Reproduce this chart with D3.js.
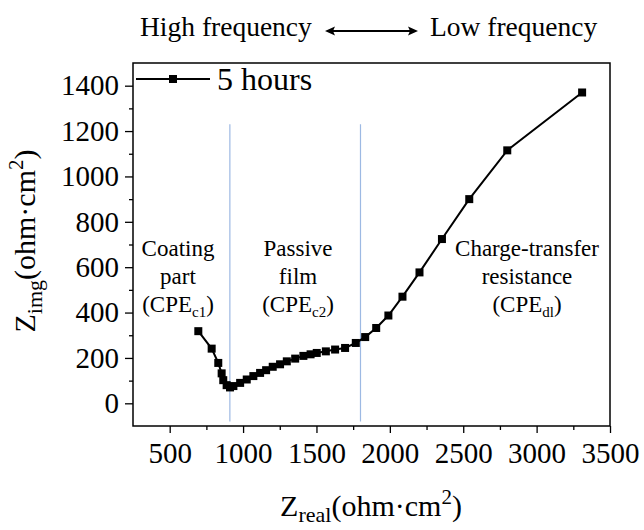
<!DOCTYPE html>
<html>
<head>
<meta charset="utf-8">
<script src="https://cdn.jsdelivr.net/npm/d3@7"></script>
<style>
  html, body { margin: 0; padding: 0; background: #fff; }
  svg { display: block; }
  svg text { font-family: 'Liberation Serif', 'Times New Roman', serif; fill: #000; }
</style>
</head>
<body>
<svg id="chart" width="644" height="530"></svg>
<script>
// ---- data ----
const zReal = [695, 786, 831, 854, 865, 888, 911, 934, 980, 1025, 1070, 1116, 1157, 1202, 1252, 1298, 1355, 1411, 1460, 1502, 1564, 1627, 1695, 1768, 1832, 1907, 1990, 2086, 2202, 2355, 2541, 2800, 3310];
const zImg  = [318, 241, 178, 132, 102, 80, 70, 76, 90, 105, 120, 134, 146, 161, 172, 185, 197, 209, 216, 222, 229, 237, 244, 266, 292, 332, 387, 470, 577, 724, 900, 1115, 1370];
const xTicks = [500, 1000, 1500, 2000, 2500, 3000, 3500];
const xMinor = [750, 1250, 1750, 2250, 2750, 3250];
const yTicks = [0, 200, 400, 600, 800, 1000, 1200, 1400];
const yMinor = [100, 300, 500, 700, 900, 1100, 1300];
const dividers = [910, 1800];
const seriesName = "5 hours";

const FONT = "Liberation Serif";
const svg = d3.select("#chart");
const L = 133, R = 610, T = 63, B = 426;
const x = d3.scaleLinear().domain([250, 3500]).range([L, R]);
const y = d3.scaleLinear().domain([-100, 1500]).range([B, T]);

// divider lines
svg.selectAll("line.div").data(dividers).enter().append("line")
  .attr("x1", d => x(d)).attr("x2", d => x(d))
  .attr("y1", y(1230)).attr("y2", y(-80))
  .attr("stroke", "#9db9e3").attr("stroke-width", 1.2);

// axes
const xAxis = svg.append("g").attr("transform", `translate(0,${B})`)
  .call(d3.axisBottom(x).tickValues(xTicks).tickSize(7).tickPadding(9).tickFormat(d3.format("d")));
const xAxisMinor = svg.append("g").attr("transform", `translate(0,${B})`)
  .call(d3.axisBottom(x).tickValues(xMinor).tickSize(4).tickFormat(""));
const yAxis = svg.append("g").attr("transform", `translate(${L},0)`)
  .call(d3.axisLeft(y).tickValues(yTicks).tickSize(8).tickPadding(6).tickFormat(d3.format("d")));
const yAxisMinor = svg.append("g").attr("transform", `translate(${L},0)`)
  .call(d3.axisLeft(y).tickValues(yMinor).tickSize(4).tickFormat(""));
[xAxis, xAxisMinor, yAxis, yAxisMinor].forEach(g => {
  g.attr("font-family", null).attr("font-size", null);
  g.select(".domain").remove();
  g.selectAll(".tick line").attr("stroke", "#000").attr("stroke-width", 1.3);
  g.selectAll(".tick text").style("font-family", FONT).style("font-size", "29px").attr("fill", "#000");
});

// frame
svg.append("rect").attr("x", L).attr("y", T).attr("width", R - L).attr("height", B - T)
  .attr("fill", "none").attr("stroke", "#000").attr("stroke-width", 1.5);

// data line + markers
const pts = zReal.map((v, i) => [v, zImg[i]]);
svg.append("path").datum(pts)
  .attr("d", d3.line().x(d => x(d[0])).y(d => y(d[1])))
  .attr("fill", "none").attr("stroke", "#000").attr("stroke-width", 2);
const ms = 8;
svg.selectAll("rect.pt").data(pts).enter().append("rect")
  .attr("x", d => x(d[0]) - ms / 2).attr("y", d => y(d[1]) - ms / 2)
  .attr("width", ms).attr("height", ms).attr("fill", "#000");

// legend
svg.append("line").attr("x1", 136).attr("x2", 210).attr("y1", 79).attr("y2", 79)
  .attr("stroke", "#000").attr("stroke-width", 2);
svg.append("rect").attr("x", 173 - ms / 2).attr("y", 79 - ms / 2).attr("width", ms).attr("height", ms).attr("fill", "#000");
svg.append("text").attr("x", 217).attr("y", 90).style("font-family", FONT).style("font-size", "32px").text(seriesName);

// region annotations
function annot(cx, lines, sub) {
  const g = svg.append("g");
  lines.forEach((t, i) => {
    g.append("text").attr("x", cx).attr("y", 256 + i * 28).attr("text-anchor", "middle")
      .style("font-family", FONT).style("font-size", "23px").text(t);
  });
  const t3 = g.append("text").attr("x", cx).attr("y", 312).attr("text-anchor", "middle")
    .style("font-family", FONT).style("font-size", "23px");
  t3.append("tspan").text("(CPE");
  t3.append("tspan").attr("dy", 5).style("font-size", "15px").text(sub);
  t3.append("tspan").attr("dy", -5).text(")");
}
annot(178, ["Coating", "part"], "c1");
annot(298, ["Passive", "film"], "c2");
annot(527, ["Charge-transfer", "resistance"], "dl");

// top frequency annotation
svg.append("text").attr("x", 140).attr("y", 36).style("font-family", FONT).style("font-size", "27.5px").text("High frequency");
svg.append("text").attr("x", 430).attr("y", 36).style("font-family", FONT).style("font-size", "27.5px").text("Low frequency");
svg.append("line").attr("x1", 330).attr("x2", 412).attr("y1", 31).attr("y2", 31)
  .attr("stroke", "#000").attr("stroke-width", 2);
svg.append("path").attr("d", "M325,31 L335,26.5 L333,31 L335,35.5 Z").attr("fill", "#000");
svg.append("path").attr("d", "M418,31 L408,26.5 L410,31 L408,35.5 Z").attr("fill", "#000");

// x title
const xt = svg.append("text").attr("x", 371).attr("y", 516).attr("text-anchor", "middle")
  .style("font-family", FONT).style("font-size", "30px");
xt.append("tspan").text("Z");
xt.append("tspan").attr("dy", 6).style("font-size", "22px").text("real");
xt.append("tspan").attr("dy", -6).text("(ohm·cm");
xt.append("tspan").attr("dy", -12).style("font-size", "21px").text("2");
xt.append("tspan").attr("dy", 12).text(")");

// y title
const yt = svg.append("text").attr("transform", "translate(35,241) rotate(-90)").attr("text-anchor", "middle")
  .style("font-family", FONT).style("font-size", "30px");
yt.append("tspan").text("Z");
yt.append("tspan").attr("dy", 7).style("font-size", "22px").text("img");
yt.append("tspan").attr("dy", -7).text("(ohm·cm");
yt.append("tspan").attr("dy", -12).style("font-size", "21px").text("2");
yt.append("tspan").attr("dy", 12).text(")");
</script>
</body>
</html>
